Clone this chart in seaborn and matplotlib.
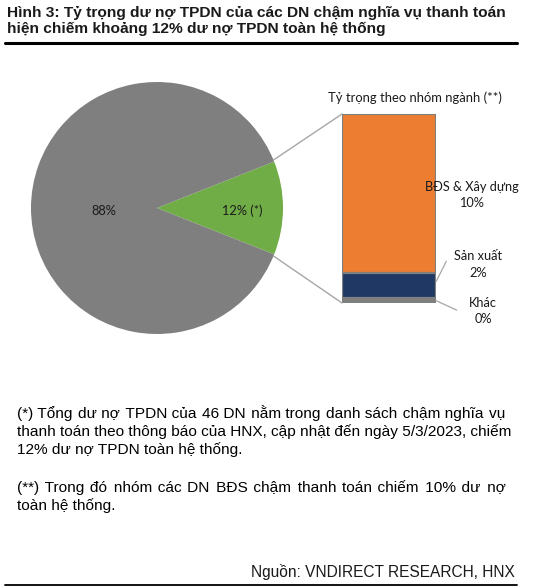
import matplotlib
matplotlib.use("Agg")
import matplotlib.pyplot as plt
import seaborn as sns
import numpy as np
from matplotlib.patches import ConnectionPatch
from matplotlib.font_manager import FontProperties

# ---- data ----
pie_labels = ["12% (*)", "88%"]
pie_values = [12, 88]
sectors = ["BĐS & Xây dựng", "Sản xuất", "Khác"]
sector_values = [10.1, 1.6, 0.3]
sector_pct = ["10%", "2%", "0%"]

title_lines = ["Hình 3: Tỷ trọng dư nợ TPDN của các DN chậm nghĩa vụ thanh toán",
               "hiện chiếm khoảng 12% dư nợ TPDN toàn hệ thống"]
bar_title = "Tỷ trọng theo nhóm ngành (**)"
note1 = ["(*) Tổng dư nợ TPDN của 46 DN nằm trong danh sách chậm nghĩa vụ",
         "thanh toán theo thông báo của HNX, cập nhật đến ngày 5/3/2023, chiếm",
         "12% dư nợ TPDN toàn hệ thống."]
note2 = ["(**) Trong đó nhóm các DN BĐS chậm thanh toán chiếm 10% dư nợ",
         "toàn hệ thống."]
source = "Nguồn: VNDIRECT RESEARCH, HNX"

sns.set_theme(style="white")
FAM = ["Liberation Sans", "DejaVu Sans"]
plt.rcParams["font.family"] = FAM

W, H = 538, 588
fig = plt.figure(figsize=(W / 100, H / 100), dpi=100)
fig.patch.set_facecolor("white")


def fx(x):
    return x / W


def fy(y):
    return 1 - y / H


CAL = ["Lato", "Open Sans", "DejaVu Sans"]
LFS = 9.2

# ---- pie ----
cx, cy, r = 157, 208, 126
ax_pie = fig.add_axes([fx(cx - r), fy(cy + r), 2 * r / W, 2 * r / H])
wedges, _ = ax_pie.pie(pie_values, colors=["#70AD47", "#7F7F7F"],
                       startangle=-pie_values[0] / 100 * 360 / 2,
                       wedgeprops=dict(linewidth=0))
ax_pie.set_xlim(-1, 1)
ax_pie.set_ylim(-1, 1)
ax_pie.set_aspect("equal")
ax_pie.axis("off")
for w, lab, d in zip(wedges, pie_labels, [0.68, 0.42]):
    ang = np.deg2rad((w.theta1 + w.theta2) / 2)
    ax_pie.text(d * np.cos(ang), d * np.sin(ang) - 0.02, lab, ha="center", va="center",
                fontsize=LFS, family=CAL, color="#1a1a1a")

# ---- stacked bar ----
bx0, bx1, by0, by1 = 342, 436, 114, 303
ax_bar = fig.add_axes([fx(bx0), fy(by1), (bx1 - bx0) / W, (by1 - by0) / H])
cum = np.cumsum(sector_values)
colors = ["#ED7D31", "#1F3864", "#7F7F7F"]
# overlay technique: tallest cumulative first
heights = [cum[-1], cum[-1] - sector_values[0], sector_values[2]]
for h, c in zip(heights, colors):
    sns.barplot(x=["s"], y=[h], color=c, saturation=1, width=1, ax=ax_bar,
                edgecolor="#7F7F7F", linewidth=1.6)
total = cum[-1]
ax_bar.set_xlim(-0.5, 0.5)
ax_bar.set_ylim(0, total)
ax_bar.axis("off")

# labels on bar
ax_bar.text(0.277, total + 1.05, bar_title, ha="center", va="center", fontsize=LFS + 0.2,
            family=CAL, color="#1a1a1a", clip_on=False)
lab_pos = [(0.88, 6.86), (0.95, 2.44), (1.0, -0.5)]
for name, pct, (lx, ly) in zip(sectors, sector_pct, lab_pos):
    ax_bar.text(lx, ly, f"{name}\n{pct}", ha="center", va="center", fontsize=LFS,
                family=CAL, color="#1a1a1a", linespacing=1.45, clip_on=False)
lead = [((0.5, 1.35), (0.61, 2.65)), ((0.5, 0.15), (0.72, -0.45))]
for (x0, y0), (x1, y1) in lead:
    ax_bar.plot([x0, x1], [y0, y1], color="#A6A6A6", lw=0.9, clip_on=False)

# connection lines pie -> bar
half = np.deg2rad(pie_values[0] / 100 * 360 / 2 + 0.8)
for sgn, ybar in [(1, total), (-1, 0)]:
    con = ConnectionPatch(xyA=(np.cos(half), sgn * np.sin(half)), coordsA=ax_pie.transData,
                          xyB=(-0.5, ybar), coordsB=ax_bar.transData,
                          color="#A6A6A6", lw=1.0)
    fig.add_artist(con)

# ---- title ----
for i, t in enumerate(title_lines):
    fig.text(fx(7), fy(17 + 16.5 * i), t, ha="left", va="baseline", fontsize=11.15,
             fontweight="bold", color="#1a1a1a")
fig.add_artist(plt.Line2D([fx(5), fx(517)], [fy(43), fy(43)], color="black", lw=2.2))

# ---- notes (justified with fine spaces inside one text per line) ----
renderer = fig.canvas.get_renderer()
NOTE_FS = 11.1
fp = FontProperties(family=FAM, size=NOTE_FS)


def tw(s):
    return renderer.get_text_width_height_descent(s, fp, ismath=False)[0]


FINE, fine_w = " ", tw("a" + " " * 10 + "b") - tw("ab")
fine_w /= 10
for cand in ["\u200a", "\u2009", "\u2006"]:
    wv = (tw("a" + cand * 10 + "b") - tw("ab")) / 10
    if wv >= 0.6:
        FINE, fine_w = cand, wv
        break


def justify(line, y, x0=17, x1=505, last=False):
    if last:
        fig.text(fx(x0), fy(y), line, ha="left", va="baseline", fontsize=NOTE_FS, color="black")
        return
    words = line.split(" ")
    ngap = len(words) - 1
    extra = (x1 - x0) - tw(line)
    n_total = max(0, int(round(extra / fine_w)))
    parts = [words[0]]
    for i in range(ngap):
        k = (n_total * (i + 1)) // ngap - (n_total * i) // ngap
        parts.append(" " + FINE * k + words[i + 1])
    fig.text(fx(x0), fy(y), "".join(parts), ha="left", va="baseline", fontsize=NOTE_FS,
             color="black")


ys1 = [418, 436, 454]
for i, (ln, y) in enumerate(zip(note1, ys1)):
    justify(ln, y, last=(i == len(note1) - 1))
ys2 = [492, 510]
for i, (ln, y) in enumerate(zip(note2, ys2)):
    justify(ln, y, last=(i == len(note2) - 1))

fig.text(fx(515), fy(577), source, ha="right", va="baseline", fontsize=11.2, color="#1a1a1a")
fig.add_artist(plt.Line2D([fx(5), fx(517)], [fy(585), fy(585)], color="black", lw=1.3))

fig.savefig("out.png", dpi=100, facecolor="white")
